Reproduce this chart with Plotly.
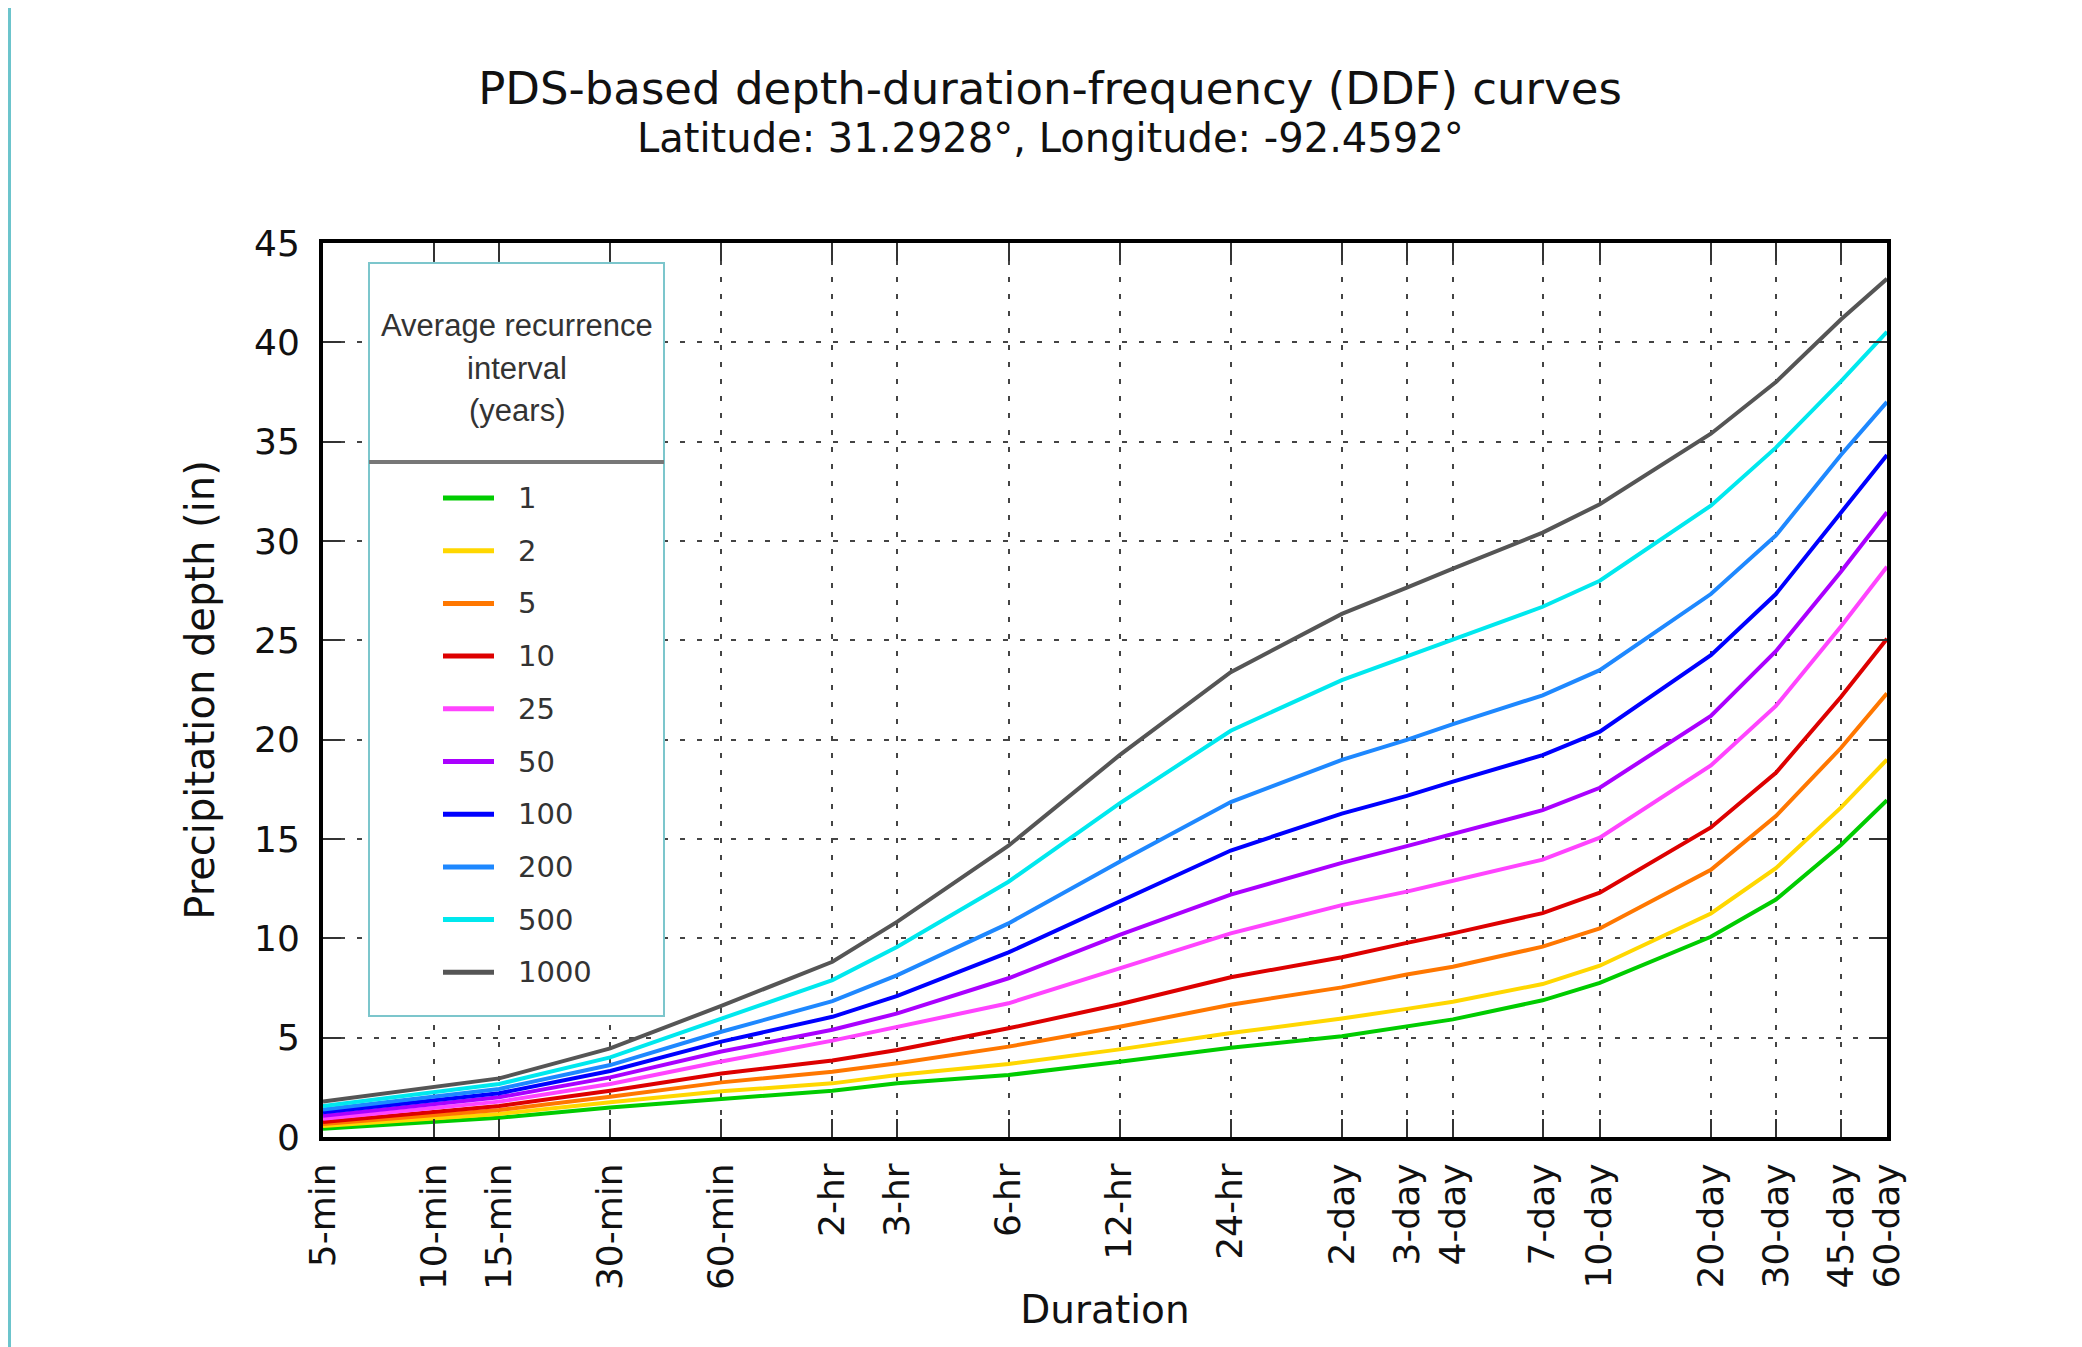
import math
import plotly.graph_objects as go

# ---------------- data ----------------
duration_labels = ["5-min", "10-min", "15-min", "30-min", "60-min", "2-hr", "3-hr", "6-hr",
                   "12-hr", "24-hr", "2-day", "3-day", "4-day", "7-day", "10-day", "20-day",
                   "30-day", "45-day", "60-day"]
duration_minutes = [5, 10, 15, 30, 60, 120, 180, 360, 720, 1440, 2880, 4320, 5760,
                    10080, 14400, 28800, 43200, 64800, 86400]

ari_years = ["1", "2", "5", "10", "25", "50", "100", "200", "500", "1000"]

depth_1 = [0.42, 0.79, 0.97, 1.49, 1.90, 2.33, 2.70, 3.12, 3.79, 4.49, 5.07, 5.55, 5.92, 6.88, 7.76, 10.08, 11.95, 14.70, 16.95]
depth_2 = [0.55, 0.94, 1.16, 1.75, 2.30, 2.70, 3.12, 3.67, 4.41, 5.23, 5.96, 6.45, 6.81, 7.70, 8.62, 11.25, 13.53, 16.58, 19.00]
depth_5 = [0.65, 1.11, 1.36, 2.03, 2.75, 3.29, 3.71, 4.55, 5.55, 6.66, 7.53, 8.18, 8.57, 9.58, 10.50, 13.45, 16.15, 19.58, 22.33]
depth_10 = [0.75, 1.27, 1.56, 2.33, 3.20, 3.85, 4.38, 5.47, 6.68, 8.04, 9.05, 9.77, 10.25, 11.27, 12.30, 15.58, 18.33, 22.15, 25.08]
depth_25 = [0.92, 1.48, 1.78, 2.67, 3.80, 4.85, 5.55, 6.73, 8.49, 10.25, 11.67, 12.35, 12.90, 13.96, 15.07, 18.70, 21.70, 25.70, 28.70]
depth_50 = [1.07, 1.64, 2.00, 3.00, 4.30, 5.40, 6.22, 7.99, 10.17, 12.20, 13.80, 14.64, 15.24, 16.45, 17.58, 21.20, 24.45, 28.45, 31.45]
depth_100 = [1.24, 1.83, 2.20, 3.32, 4.80, 6.05, 7.10, 9.29, 11.84, 14.42, 16.28, 17.17, 17.89, 19.22, 20.40, 24.25, 27.33, 31.45, 34.33]
depth_200 = [1.39, 2.03, 2.42, 3.62, 5.30, 6.84, 8.15, 10.75, 13.86, 16.86, 18.98, 19.99, 20.78, 22.23, 23.50, 27.33, 30.28, 34.33, 37.00]
depth_500 = [1.56, 2.25, 2.67, 4.01, 5.95, 7.90, 9.58, 12.85, 16.79, 20.45, 23.00, 24.20, 25.00, 26.69, 28.00, 31.78, 34.70, 38.03, 40.53]
depth_1000 = [1.78, 2.50, 2.95, 4.46, 6.60, 8.82, 10.84, 14.66, 19.22, 23.40, 26.33, 27.65, 28.61, 30.42, 31.85, 35.40, 38.00, 41.15, 43.20]

series_depths = [depth_1, depth_2, depth_5, depth_10, depth_25, depth_50,
                 depth_100, depth_200, depth_500, depth_1000]
series_colors = ["#00cc00", "#ffd700", "#ff7700", "#dd0000", "#ff44ff",
                 "#aa00ff", "#0000ff", "#1e88ff", "#00e8ee", "#555555"]

y_ticks = [0, 5, 10, 15, 20, 25, 30, 35, 40, 45]

# ---------------- layout helpers (reference pixel -> paper) ----------------
W, H = 2082, 1347          # reference page size
OFF = 8                    # page body margin in the browser
FW, FH = W - OFF, H - OFF  # figure size
PX0, PX1, PY0, PY1 = 323, 1887, 243, 1137   # plot area in reference pixels


def px(x):
    return (x - PX0) / (PX1 - PX0)


def py(y):
    return (PY1 - y) / (PY1 - PY0)


FONT = "DejaVu Sans"

fig = go.Figure()
for name, ys, col in zip(ari_years, series_depths, series_colors):
    fig.add_trace(go.Scatter(
        x=duration_minutes, y=ys, mode="lines", name=name,
        line=dict(color=col, width=4), showlegend=False,
    ))

shapes = []
annotations = []

# legend box
LX0, LX1, LY0, LY1 = 369, 664, 263, 1016
shapes.append(dict(type="rect", xref="paper", yref="paper", x0=px(LX0), x1=px(LX1),
                   y0=py(LY1), y1=py(LY0), fillcolor="white",
                   line=dict(color="#7cc6cc", width=2), layer="above"))
shapes.append(dict(type="line", xref="paper", yref="paper", x0=px(LX0), x1=px(LX1),
                   y0=py(462), y1=py(462), line=dict(color="#777777", width=4), layer="above"))
for i, line_y in enumerate([325, 368, 410]):
    annotations.append(dict(xref="paper", yref="paper", x=px((LX0 + LX1) / 2), y=py(line_y),
                            text=["Average recurrence", "interval", "(years)"][i],
                            showarrow=False, xanchor="center", yanchor="middle",
                            font=dict(family="Liberation Sans Narrow, Liberation Sans, Arial",
                                      size=31, color="#333333")))
item_y0, item_dy = 498, 52.7
for i, (name, col) in enumerate(zip(ari_years, series_colors)):
    yy = item_y0 + i * item_dy
    shapes.append(dict(type="line", xref="paper", yref="paper", x0=px(443), x1=px(494),
                       y0=py(yy), y1=py(yy), line=dict(color=col, width=5), layer="above"))
    annotations.append(dict(xref="paper", yref="paper", x=px(516), y=py(yy), text=name,
                            showarrow=False, xanchor="left", yanchor="middle",
                            font=dict(family=FONT, size=29, color="#333333")))

# subtitle
annotations.append(dict(xref="paper", yref="paper", x=px(1050), y=py(138),
                        text="Latitude: 31.2928°, Longitude: -92.4592°",
                        showarrow=False, xanchor="center", yanchor="middle",
                        font=dict(family=FONT, size=40, color="#111111")))

# teal page edge
shapes.append(dict(type="line", xref="paper", yref="paper", x0=px(OFF + 1.5), x1=px(OFF + 1.5),
                   y0=py(H + 50), y1=py(-50), line=dict(color="#6cc4cc", width=3), layer="above"))

axis_common = dict(showline=True, linecolor="black", linewidth=4, mirror="allticks",
                   ticks="inside", ticklen=18, tickwidth=2, tickcolor="#333333",
                   showgrid=True, gridcolor="#444444", gridwidth=2, griddash="5px,12px",
                   zeroline=False, tickfont=dict(family=FONT, size=36, color="#111111"))

fig.update_layout(
    width=FW, height=FH,
    margin=dict(l=PX0 - OFF, r=W - PX1, t=PY0 - OFF, b=H - PY1, pad=0),
    paper_bgcolor="white", plot_bgcolor="white",
    title=dict(text="PDS-based depth-duration-frequency (DDF) curves",
               x=(1050 - OFF) / FW, xref="container", xanchor="center",
               y=1 - (88 - OFF) / FH, yref="container", yanchor="middle",
               font=dict(family=FONT, size=45, color="#111111")),
    xaxis=dict(type="log", range=[math.log10(duration_minutes[0]), math.log10(duration_minutes[-1])],
               tickmode="array", tickvals=duration_minutes, ticktext=duration_labels,
               tickangle=-90, ticklabelstandoff=8,
               title=dict(text="Duration", standoff=8, font=dict(family=FONT, size=39, color="#111111")),
               **axis_common),
    yaxis=dict(range=[0, 45], tickmode="array", tickvals=y_ticks, ticklabelstandoff=12,
               title=dict(text="Precipitation depth (in)", standoff=28,
                          font=dict(family=FONT, size=40, color="#111111")),
               **axis_common),
    shapes=shapes, annotations=annotations,
    showlegend=False,
)

fig.write_html("out.html")
